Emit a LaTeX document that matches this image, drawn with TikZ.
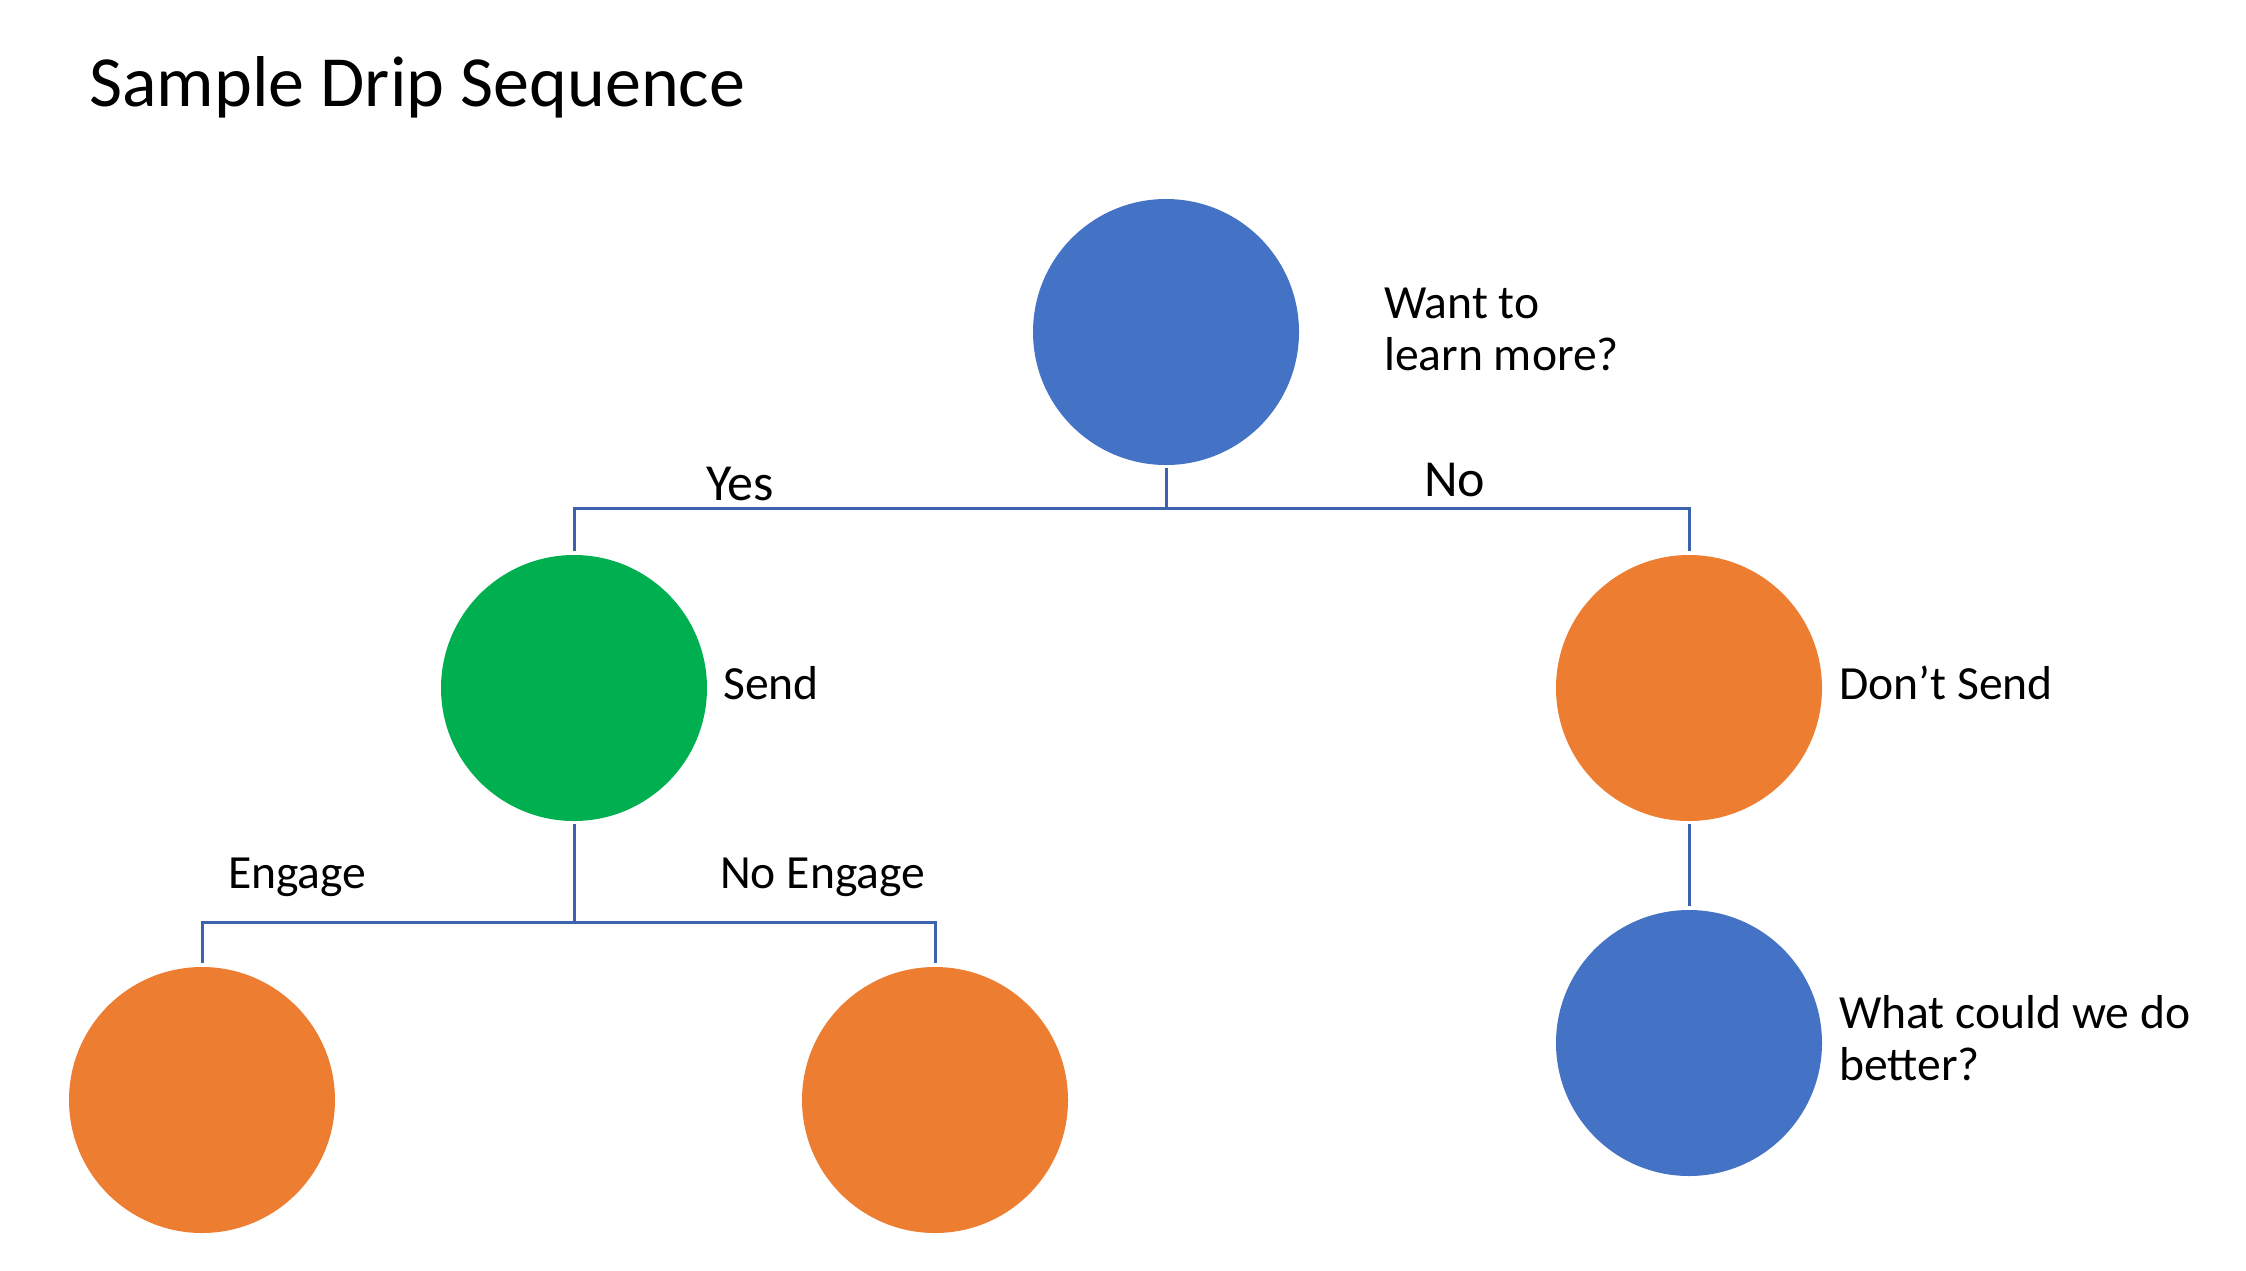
\documentclass[tikz,border=0pt]{standalone}
\usepackage{fontspec}
\setmainfont{Carlito}
\definecolor{cblue}{HTML}{4472C4}
\definecolor{cgreen}{HTML}{00B050}
\definecolor{corange}{HTML}{ED7D31}
\definecolor{cline}{HTML}{3D63AE}
\tikzset{
  dot/.style={circle, minimum size=266pt, inner sep=0pt, draw=none},
  conn/.style={draw=cline, line width=3pt},
  lbl/.style={anchor=base west, inner sep=0pt, font=\fontsize{47.6}{52}\selectfont},
  yn/.style={anchor=base west, inner sep=0pt, font=\fontsize{52}{57}\selectfont},
}
\begin{document}
\begin{tikzpicture}[x=1pt, y=-1pt]
\useasboundingbox (0,0) rectangle (2246,1270);
\fill[white] (0,0) rectangle (2246,1270);
\node[anchor=base west, inner sep=0pt, font=\fontsize{72}{80}\selectfont] (title) at (89,106) {Sample Drip Sequence};

\node[dot, fill=cblue] (top) at (1166,332) {};
\node[dot, fill=cgreen] (send) at (574,688) {};
\node[dot, fill=corange] (dont) at (1689,688) {};
\node[dot, fill=cblue] (better) at (1689,1043) {};
\node[dot, fill=corange] (eng) at (202,1100) {};
\node[dot, fill=corange] (noeng) at (935,1100) {};

\coordinate (j1) at (1166,508);
\coordinate (j2) at (574,922);
\draw[conn] ([yshift=-3pt]top.south) -- (j1);
\draw[conn] (j1) -| ([yshift=4pt]send.north);
\draw[conn] (j1) -| ([yshift=4pt]dont.north);
\draw[conn] ([yshift=-3pt]send.south) -- (j2);
\draw[conn] (j2) -| ([yshift=4pt]eng.north);
\draw[conn] (j2) -| ([yshift=4pt]noeng.north);
\draw[conn] ([yshift=-3pt]dont.south) -- ([yshift=4pt]better.north);

\node[lbl] (tq) at (1384,318) {\begin{tabular}[t]{@{}l@{}}Want to\\learn more?\end{tabular}};
\node[yn] (yes) at (706,500) {Yes};
\node[yn] (no) at (1424,496) {No};
\node[lbl] (tsend) at (723,699) {Send};
\node[lbl] (tdont) at (1839,699) {Don’t Send};
\node[lbl] (teng) at (228,888) {Engage};
\node[lbl] (tnoeng) at (720,888) {No Engage};
\node[lbl] (tbetter) at (1839,1028) {\begin{tabular}[t]{@{}l@{}}What could we do\\better?\end{tabular}};
\end{tikzpicture}
\end{document}
